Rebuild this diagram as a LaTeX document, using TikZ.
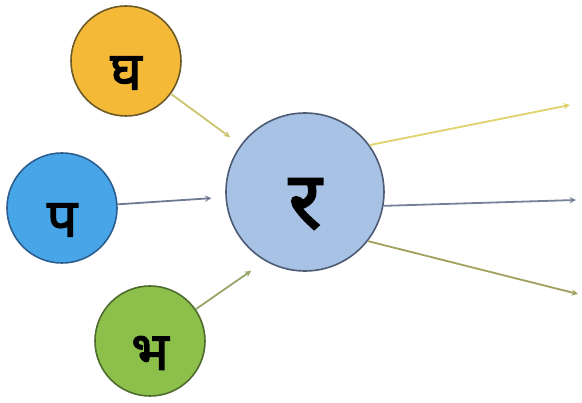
\documentclass[tikz,border=0pt]{standalone}
\usepackage{fontspec}
\newfontfamily\devfont[Script=Devanagari,FakeBold=2.5]{Noto Sans}
\newcommand\lowered[1]{\raisebox{-12pt}[\height][\depth]{#1}}
\begin{document}
\begin{tikzpicture}[x=1pt,y=-1pt,>=stealth,
    ball/.style={circle,draw,line width=1.6pt,minimum size=110pt,inner sep=0pt,font=\devfont\fontsize{53}{53}\selectfont},
    link/.style={->,line width=1.8pt,shorten >=13pt}]
        \useasboundingbox (0,0) rectangle (582,403);
        \node[ball,fill={rgb,255:red,245;green,185;blue,56},draw={rgb,255:red,110;green,90;blue,40}](gha)at(126,61){\lowered{घ}};
        \node[ball,fill={rgb,255:red,72;green,166;blue,232},draw={rgb,255:red,44;green,95;blue,143}](pa)at(62,208){\lowered{प}};
        \node[ball,fill={rgb,255:red,140;green,192;blue,75},draw={rgb,255:red,79;green,107;blue,46}](bha)at(150,341){\lowered{भ}};
        \node[ball,minimum size=158pt,fill={rgb,255:red,167;green,194;blue,229},draw={rgb,255:red,76;green,91;blue,115},font=\devfont\fontsize{80}{80}\selectfont](ra)at(305,192){\lowered{र}};
        \coordinate(top)at(570,105);\coordinate(mid)at(576,200);\coordinate(low)at(578,294);
        \draw[link,draw={rgb,255:red,205;green,196;blue,110}](gha)--(ra);
        \draw[link,draw={rgb,255:red,110;green,122;blue,148},shorten >=14pt](pa)--(ra);
        \draw[link,draw={rgb,255:red,150;green,165;blue,105},shorten >=17pt](bha)--(ra.240);
        \draw[link,shorten >=0pt,draw={rgb,255:red,225;green,210;blue,110}](ra.36)--(top);
        \draw[link,shorten >=0pt,draw={rgb,255:red,118;green,128;blue,150}](ra.350)--(mid);
        \draw[link,shorten >=0pt,draw={rgb,255:red,160;green,160;blue,95}](ra.322)--(low);
    \end{tikzpicture}
\end{document}
